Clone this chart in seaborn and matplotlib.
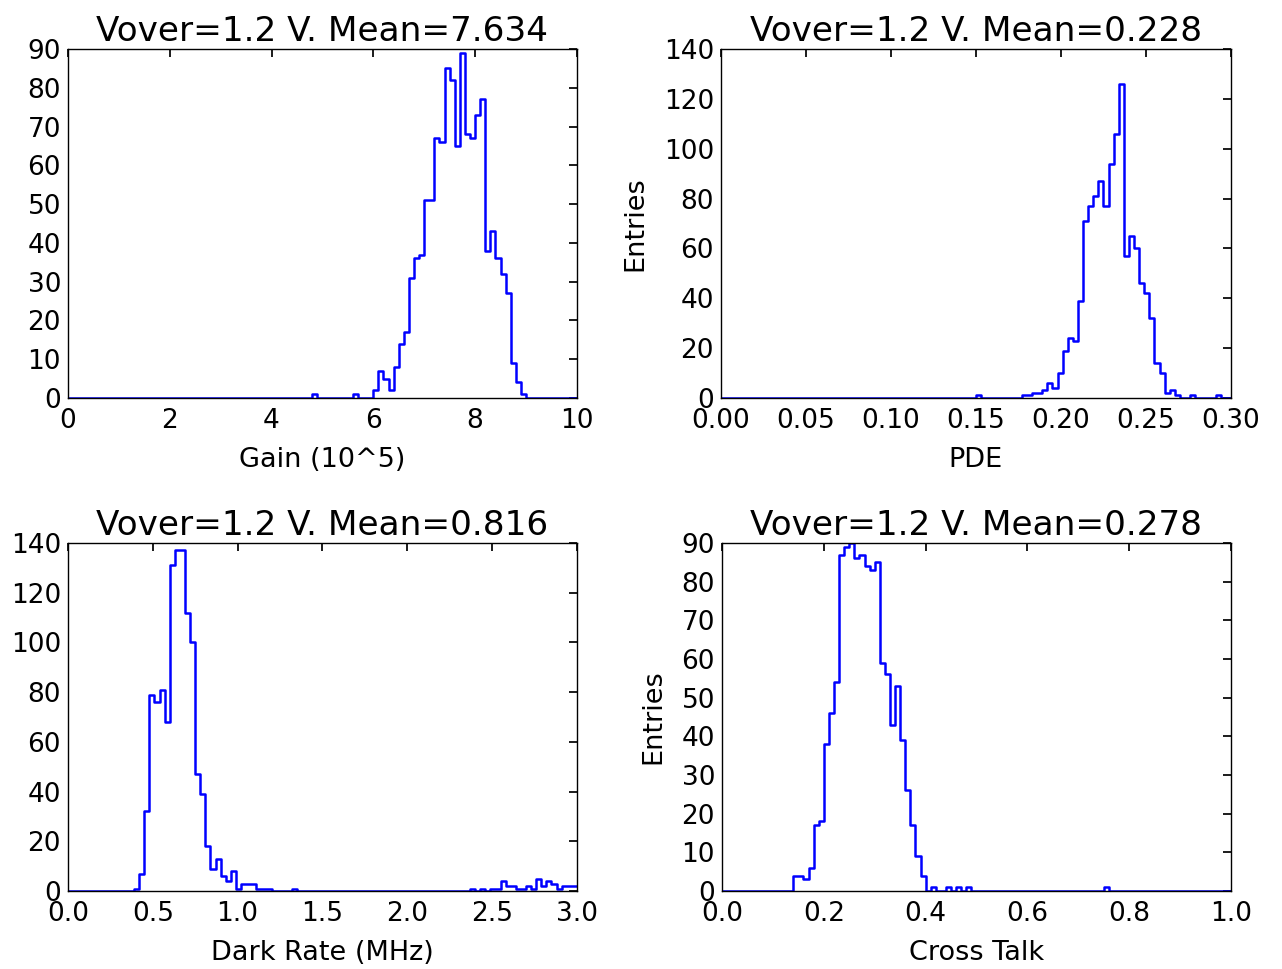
import numpy as np
import pandas as pd
import matplotlib
matplotlib.use("Agg")
import matplotlib.pyplot as plt
import seaborn as sns

# left bin edges and entries (100 bins per panel)
gain_edges = [4.8, 5.6, 6.0, 6.1, 6.2, 6.3, 6.4, 6.5, 6.6, 6.7, 6.8, 6.9, 7.0, 7.1, 7.2, 7.3,
              7.4, 7.5, 7.6, 7.7, 7.8, 7.9, 8.0, 8.1, 8.2, 8.3, 8.4, 8.5, 8.6, 8.7, 8.8, 8.9]
gain_counts = [1, 1, 2, 7, 5, 2, 8, 14, 17, 31, 36, 37, 51, 51, 67, 66,
               85, 82, 65, 89, 68, 67, 73, 77, 38, 43, 36, 32, 27, 9, 4, 1]

pde_edges = [0.150, 0.177, 0.180, 0.183, 0.186, 0.189, 0.192, 0.195, 0.198, 0.201, 0.204, 0.207,
             0.210, 0.213, 0.216, 0.219, 0.222, 0.225, 0.228, 0.231, 0.234, 0.237, 0.240, 0.243,
             0.246, 0.249, 0.252, 0.255, 0.258, 0.261, 0.264, 0.267, 0.276, 0.291]
pde_counts = [1, 1, 1, 2, 2, 3, 6, 4, 10, 19, 24, 23,
              39, 71, 77, 81, 87, 77, 94, 106, 126, 57, 65, 60,
              46, 42, 32, 14, 10, 2, 3, 1, 1, 1]

dark_edges = [0.39, 0.42, 0.45, 0.48, 0.51, 0.54, 0.57, 0.60, 0.63, 0.66, 0.69, 0.72, 0.75,
              0.78, 0.81, 0.84, 0.87, 0.90, 0.93, 0.96, 0.99, 1.02, 1.05, 1.08, 1.11, 1.14,
              1.17, 1.32, 2.37, 2.43, 2.49, 2.52, 2.55, 2.58, 2.61, 2.64, 2.67, 2.70, 2.73,
              2.76, 2.79, 2.82, 2.85, 2.88, 2.91, 2.94, 2.97]
dark_counts = [1, 7, 32, 79, 76, 81, 68, 131, 137, 137, 112, 100, 47,
               39, 18, 9, 13, 6, 4, 8, 1, 3, 3, 3, 1, 1,
               1, 1, 1, 1, 1, 1, 4, 2, 2, 1, 1, 2, 1,
               5, 2, 4, 3, 1, 2, 2, 2]

ct_edges = [0.14, 0.15, 0.16, 0.17, 0.18, 0.19, 0.20, 0.21, 0.22, 0.23, 0.24, 0.25, 0.26,
            0.27, 0.28, 0.29, 0.30, 0.31, 0.32, 0.33, 0.34, 0.35, 0.36, 0.37, 0.38, 0.39,
            0.41, 0.44, 0.46, 0.48, 0.75]
ct_counts = [4, 4, 3, 6, 17, 18, 38, 46, 54, 87, 89, 90, 86,
             87, 84, 83, 85, 59, 56, 43, 53, 39, 26, 17, 9, 4,
             1, 1, 1, 1, 1]

means = ["7.634", "0.228", "0.816", "0.278"]
xlabels = ["Gain (10^5)", "PDE", "Dark Rate (MHz)", "Cross Talk"]

sns.set_theme(style="white")
plt.rcParams.update({
    "font.family": ["DejaVu Sans"],
    "text.color": "black", "axes.labelcolor": "black",
    "xtick.direction": "in", "ytick.direction": "in",
    "xtick.top": True, "ytick.right": True,
    "xtick.major.size": 6, "ytick.major.size": 6,
    "xtick.major.pad": 7.5, "ytick.major.pad": 5,
    "xtick.labelsize": 19, "ytick.labelsize": 19,
    "axes.labelsize": 19.5, "axes.titlesize": 24.7,
    "axes.edgecolor": "black", "axes.linewidth": 1.0,
    "xtick.color": "black", "ytick.color": "black",
})

fig = plt.figure(figsize=(12.82, 9.69), dpi=100)
boxes = [[0.053, 0.5893, 0.397, 0.3601], [0.5624, 0.5893, 0.3978, 0.3601],
         [0.053, 0.0805, 0.397, 0.3591], [0.5632, 0.0805, 0.397, 0.3591]]

panels = [
    (gain_edges, gain_counts, (0, 10), 90, np.arange(0, 11, 2), np.arange(0, 91, 10), "{:.0f}", False),
    (pde_edges, pde_counts, (0, 0.3), 140, np.arange(0, 0.31, 0.05), np.arange(0, 141, 20), "{:.2f}", True),
    (dark_edges, dark_counts, (0, 3), 140, np.arange(0, 3.1, 0.5), np.arange(0, 141, 20), "{:.1f}", False),
    (ct_edges, ct_counts, (0, 1), 90, np.arange(0, 1.01, 0.2), np.arange(0, 91, 10), "{:.1f}", True),
]

for k, (edges, counts, rng, ymax, xt, yt, fmt, entries) in enumerate(panels):
    ax = fig.add_axes(boxes[k])
    w = (rng[1] - rng[0]) / 100
    df = pd.DataFrame({"x": np.array(edges) + w / 2, "n": counts})
    sns.histplot(data=df, x="x", weights="n", bins=100, binrange=rng,
                 element="step", fill=False, color="blue", linewidth=1.8, ax=ax)
    ax.set_xlim(*rng)
    ax.set_ylim(0, ymax)
    ax.set_xticks(xt)
    ax.set_xticklabels([fmt.format(v) for v in xt])
    ax.set_yticks(yt)
    ax.set_title(f"Vover=1.2 V. Mean={means[k]}", pad=6)
    ax.set_xlabel(xlabels[k], labelpad=9)
    ax.set_ylabel("Entries" if entries else "", labelpad=11)
    for s in ax.spines.values():
        s.set_visible(True)

fig.savefig("out.png", dpi=100)
